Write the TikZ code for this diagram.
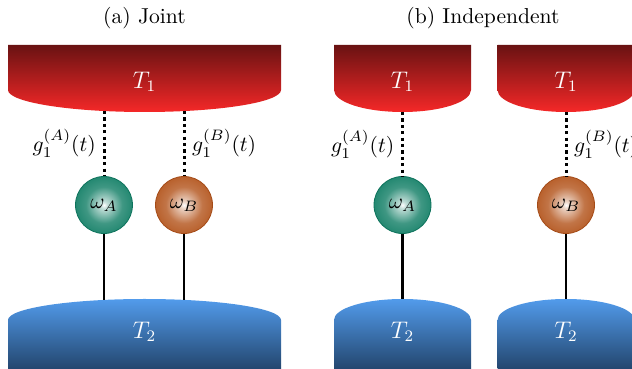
\documentclass[tikz,border=0pt]{standalone}
\usepackage{amsmath}
\usepackage{fix-cm}
\usetikzlibrary{positioning,calc}
\definecolor{hottop}{RGB}{105,18,18}
\definecolor{hotbot}{RGB}{245,40,40}
\definecolor{coldtop}{RGB}{82,155,235}
\definecolor{coldbot}{RGB}{35,70,110}
\definecolor{spina}{RGB}{15,125,100}
\definecolor{spinb}{RGB}{178,82,25}
\pgfdeclareradialshading{spinashade}{\pgfpoint{0bp}{0bp}}{color(0bp)=(white);
  color(3bp)=(spina!25!white); color(16bp)=(spina!80!white);
  color(32bp)=(spina); color(50bp)=(spina!92!black)}
\pgfdeclareradialshading{spinbshade}{\pgfpoint{0bp}{0bp}}{color(0bp)=(white);
  color(3bp)=(spinb!25!white); color(16bp)=(spinb!80!white);
  color(32bp)=(spinb); color(50bp)=(spinb!92!black)}
\tikzset{
  hot/.style={top color=hottop,bottom color=hotbot},
  cold/.style={top color=coldtop,bottom color=coldbot},
  spin/.style={circle,minimum size=28.5pt,inner sep=0pt,shading=#1shade,
    draw=#1!92!black,line width=0.4pt},
  coup/.style={line width=1.5pt,dash pattern=on 1.6pt off 1.6pt},
  link/.style={line width=1.4pt},
  lab/.style={text=white,font=\fontsize{12}{14}\selectfont},
}
\begin{document}
\begin{tikzpicture}[x=0.5pt,y=0.5pt,font=\fontsize{10.8}{13}\selectfont]
  \clip (0,0) rectangle (632,369);
  % baths
  \foreach \cx/\hw in {144.5/136.5,402.5/68.5,566/68.5} {
    \shade[hot] (\cx-\hw,324) -- (\cx+\hw,324) -- (\cx+\hw,279)
      arc[start angle=0,end angle=-180,x radius=\hw,y radius=22] -- cycle;
    \shade[cold] (\cx-\hw,0) -- (\cx-\hw,49)
      arc[start angle=180,end angle=0,x radius=\hw,y radius=21] -- (\cx+\hw,0) -- cycle;
  }
  % titles
  \node (tj) at (144.5,351) {(a) Joint};
  \node (ti) at (483,351) {(b) Independent};
  % (a) joint
  \node[lab] (h1) at (144.5,287) {$T_1$};
  \node[lab] (c1) at (144.5,37) {$T_2$};
  \node[spin=spina] (wa) at (104,164) {$\omega_A$};
  \node[spin=spinb] (wb) at (184,164) {$\omega_B$};
  \coordinate (ua) at (104,258); \coordinate (la) at (104,69);
  \coordinate (ub) at (184,258); \coordinate (lb) at (184,69);
  \draw[coup] (ua) -- (wa) node[midway,left] {$g_1^{(A)}(t)$};
  \draw[coup] (ub) -- (wb) node[midway,right] {$g_1^{(B)}(t)$};
  \draw[link] (wa) -- (la);
  \draw[link] (wb) -- (lb);
  % (b) independent
  \node[lab] (h2) at (402.5,287) {$T_1$};
  \node[lab] (h3) at (566,287) {$T_1$};
  \node[lab] (c2) at (402.5,37) {$T_2$};
  \node[lab] (c3) at (566,37) {$T_2$};
  \node[spin=spina] (wa2) at (402.5,164) {$\omega_A$};
  \node[spin=spinb] (wb2) at (566,164) {$\omega_B$};
  \coordinate (ua2) at (402.5,257); \coordinate (la2) at (402.5,70);
  \coordinate (ub2) at (566,257); \coordinate (lb2) at (566,70);
  \draw[coup] (ua2) -- (wa2) node[midway,left] {$g_1^{(A)}(t)$};
  \draw[coup] (ub2) -- (wb2) node[midway,right] {$g_1^{(B)}(t)$};
  \draw[link] (wa2) -- (la2);
  \draw[link] (wb2) -- (lb2);
\end{tikzpicture}
\end{document}
